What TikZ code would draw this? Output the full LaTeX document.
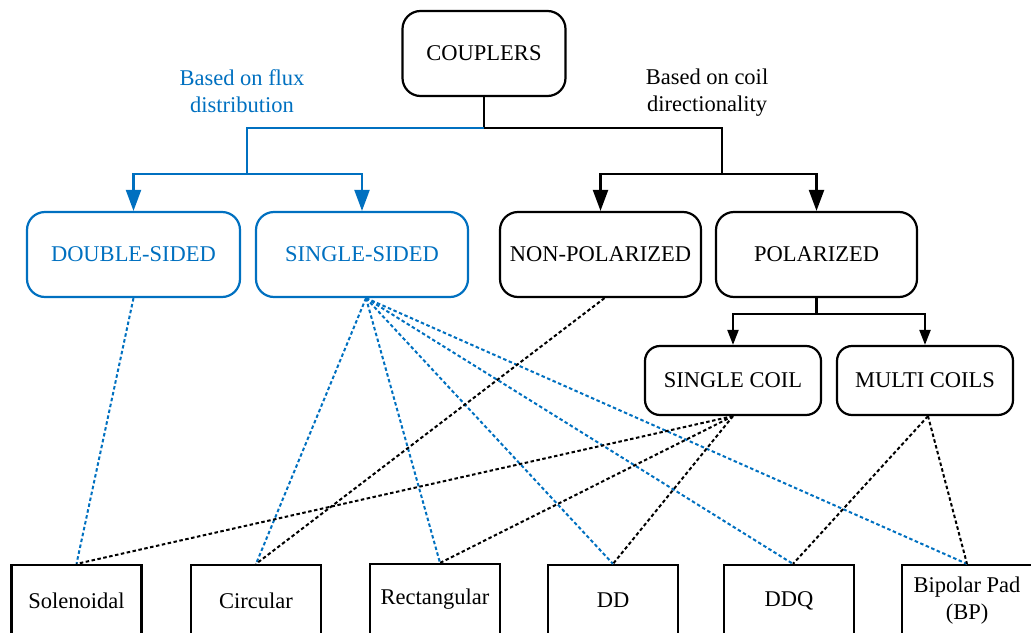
\documentclass[tikz,border=0pt]{standalone}
\usepackage{fontspec}
\setmainfont{Liberation Serif}
\usetikzlibrary{arrows.meta}
\definecolor{cblue}{RGB}{0,112,192}
\tikzset{
  rbox/.style={draw, line width=2.2pt, rounded corners=18pt, align=center, inner sep=0pt},
  sqbox/.style={draw, line width=2.2pt, align=center, inner sep=0pt, minimum width=130pt, minimum height=71pt},
  conn/.style={line width=2.2pt},
  bigarrow/.style={-{Triangle[length=21pt,width=15pt]}},
  smallarrow/.style={-{Triangle[length=15pt,width=11pt]}},
  dotl/.style={line width=2pt, dash pattern=on 3.5pt off 2.5pt},
  lbl/.style={align=center, inner sep=0pt}
}
\begin{document}
\begin{tikzpicture}[x=1pt,y=-1pt,font=\fontsize{22.5}{27}\selectfont]
\useasboundingbox (0,0) rectangle (1031,632);
% top
\node[rbox, minimum width=163pt, minimum height=85pt] (cp) at (484,53.5) {COUPLERS};
\node[lbl, text=cblue] (lflux) at (242,91) {Based on flux\\distribution};
\node[lbl] (lcoil) at (707,93) {Based on coil\\directionality};
% second level
\node[rbox, draw=cblue, text=cblue, minimum width=213pt, minimum height=85pt] (ds) at (133.5,254.5) {DOUBLE-SIDED};
\node[rbox, draw=cblue, text=cblue, minimum width=212pt, minimum height=85pt] (ss) at (362,254.5) {SINGLE-SIDED};
\node[rbox, minimum width=201pt, minimum height=85pt] (np) at (600.5,254.5) {NON-POLARIZED};
\node[rbox, minimum width=201pt, minimum height=85pt] (pol) at (816.5,254.5) {POLARIZED};
% third level
\node[rbox, rounded corners=15pt, minimum width=176pt, minimum height=69pt] (sc) at (733,380.5) {SINGLE COIL};
\node[rbox, rounded corners=15pt, minimum width=176pt, minimum height=69pt] (mc) at (925,380.5) {MULTI COILS};
% bottom
\node[sqbox] (sol) at (76.5,600.5) {Solenoidal};
\node[sqbox] (cir) at (256,600.5) {Circular};
\node[sqbox] (rec) at (435,599.5) {\raisebox{3pt}{Rectangular}};
\node[sqbox] (dd) at (613,600.5) {DD};
\node[sqbox] (ddq) at (789,600.5) {DDQ};
\node[sqbox] (bp) at (967,600.5) {Bipolar Pad\\(BP)};
% tree connectors
\coordinate (j1) at (484,128);
\coordinate (jb1) at (247,128);
\coordinate (jb2) at (247,174);
\coordinate (jk1) at (722,128);
\coordinate (jk2) at (722,174);
\coordinate (jp) at (816.5,314);
\draw[conn] (cp.south) -- (j1);
\draw[conn, cblue] (j1) -- (jb1) -- (jb2);
\draw[conn, cblue, bigarrow] (jb2) -| (ds.north);
\draw[conn, cblue, bigarrow] (jb2) -| (ss.north);
\draw[conn] (j1) -- (jk1) -- (jk2);
\draw[conn, bigarrow] (jk2) -| (np.north);
\draw[conn, bigarrow] (jk2) -| (pol.north);
\draw[conn] (pol.south) -- (jp);
\draw[conn, smallarrow] (jp) -| (sc.north);
\draw[conn, smallarrow] (jp) -| (mc.north);
% dotted blue
\coordinate (ssb) at ([xshift=4pt]ss.south);
\draw[dotl, cblue] (ds.south) -- (sol.north);
\draw[dotl, cblue] (ssb) -- (cir.north);
\draw[dotl, cblue] (ssb) -- ([xshift=5pt]rec.north);
\draw[dotl, cblue] (ssb) -- (dd.north);
\draw[dotl, cblue] (ssb) -- ([xshift=4pt]ddq.north);
\draw[dotl, cblue] (ssb) -- (bp.north);
% dotted black
\draw[dotl] ([xshift=4pt]np.south) -- (cir.north);
\draw[dotl] (sc.south) -- (sol.north);
\draw[dotl] (sc.south) -- ([xshift=5pt]rec.north);
\draw[dotl] (sc.south) -- (dd.north);
\draw[dotl] ([xshift=3pt]mc.south) -- ([xshift=4pt]ddq.north);
\draw[dotl] ([xshift=3pt]mc.south) -- (bp.north);
\end{tikzpicture}
\end{document}
